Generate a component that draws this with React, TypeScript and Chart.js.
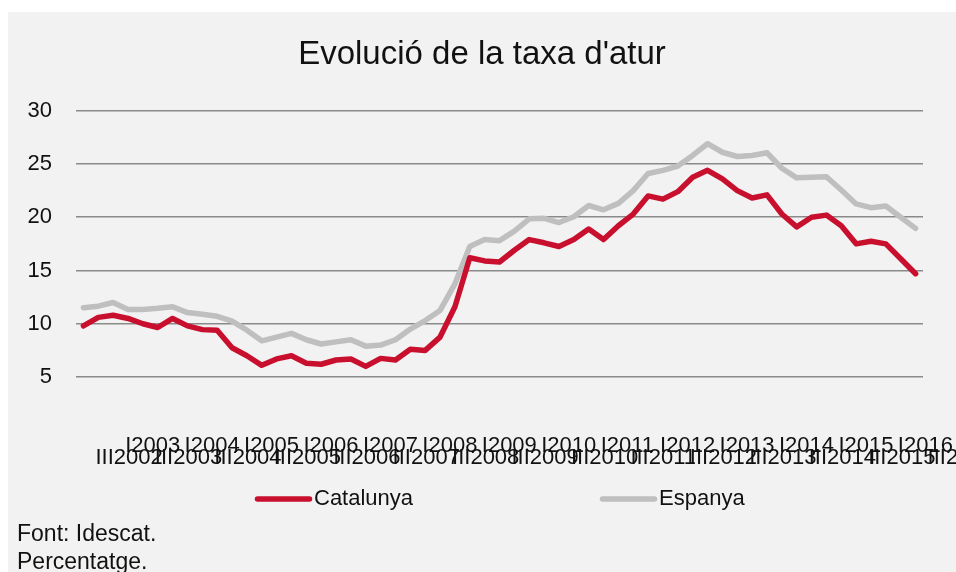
import React, { useEffect, useRef } from "react";
import { Chart, registerables } from "chart.js";

Chart.register(...registerables);

const categories = [
  "III2002", "IV2002",
  "I2003", "II2003", "III2003", "IV2003",
  "I2004", "II2004", "III2004", "IV2004",
  "I2005", "II2005", "III2005", "IV2005",
  "I2006", "II2006", "III2006", "IV2006",
  "I2007", "II2007", "III2007", "IV2007",
  "I2008", "II2008", "III2008", "IV2008",
  "I2009", "II2009", "III2009", "IV2009",
  "I2010", "II2010", "III2010", "IV2010",
  "I2011", "II2011", "III2011", "IV2011",
  "I2012", "II2012", "III2012", "IV2012",
  "I2013", "II2013", "III2013", "IV2013",
  "I2014", "II2014", "III2014", "IV2014",
  "I2015", "II2015", "III2015", "IV2015",
  "I2016", "II2016", "III2016",
];

const catalunya = [
  9.8, 10.6,
  10.8, 10.5, 10.0, 9.65,
  10.5, 9.8, 9.45, 9.4,
  7.75, 7.0, 6.1, 6.7,
  7.0, 6.3, 6.2, 6.6,
  6.7, 6.0, 6.75, 6.6,
  7.6, 7.5, 8.75, 11.6,
  16.2, 15.9, 15.8, 16.9,
  17.9, 17.6, 17.25, 17.9,
  18.9, 17.9, 19.2, 20.3,
  22.0, 21.7, 22.4, 23.75,
  24.4, 23.6, 22.5, 21.8,
  22.1, 20.3, 19.1, 20.0,
  20.2, 19.2, 17.5, 17.75,
  17.5, 16.1, 14.7,
];

const espanya = [
  11.5, 11.65,
  12.0, 11.35, 11.35, 11.45,
  11.6, 11.05, 10.9, 10.7,
  10.25, 9.4, 8.4, 8.75,
  9.1, 8.5, 8.1, 8.3,
  8.5, 7.9, 8.0, 8.5,
  9.5, 10.3, 11.25, 13.75,
  17.25, 17.9, 17.8, 18.7,
  19.85, 19.9, 19.5, 20.05,
  21.1, 20.7, 21.3, 22.5,
  24.1, 24.4, 24.8, 25.8,
  26.9, 26.1, 25.7, 25.8,
  26.05, 24.6, 23.7, 23.75,
  23.8, 22.55, 21.25, 20.9,
  21.05, 20.0, 18.95,
];

const seriesNames = ["Catalunya", "Espanya"];
const seriesColors = ["#c8102e", "#bfbfbf"];
const titleText = "Evolució de la taxa d'atur";
const sourceNotes = ["Font: Idescat.", "Percentatge."];
const yMin = 0;
const yMax = 30;
const yStep = 5;

const FONT = "'Liberation Sans', Arial, sans-serif";
const TEXT = "#111111";

const overlayPlugin = {
  id: "overlayTexts",
  afterDraw(chart: any) {
    const { ctx, chartArea } = chart;
    const cx = (chartArea.left + chartArea.right) / 2;
    ctx.save();
    ctx.fillStyle = TEXT;
    // title
    ctx.font = `33px ${FONT}`;
    ctx.textAlign = "center";
    ctx.textBaseline = "alphabetic";
    ctx.fillText(titleText, cx - 17.5, chartArea.top - 46.4);
    // legend
    const starts = [cx - 244.5, cx + 100.5];
    const ly = chartArea.bottom + 68.7;
    chart.data.datasets.forEach((ds: any, k: number) => {
      const x0 = starts[k];
      ctx.strokeStyle = ds.borderColor;
      ctx.lineWidth = ds.borderWidth;
      ctx.lineCap = "round";
      ctx.beginPath();
      ctx.moveTo(x0 + 2.5, ly);
      ctx.lineTo(x0 + 54.5, ly);
      ctx.stroke();
      ctx.font = `22px ${FONT}`;
      ctx.textAlign = "left";
      ctx.textBaseline = "middle";
      ctx.fillStyle = TEXT;
      ctx.fillText(ds.label, x0 + 59, ly);
    });
    // footnotes
    ctx.font = `23px ${FONT}`;
    ctx.textAlign = "left";
    ctx.textBaseline = "alphabetic";
    sourceNotes.forEach((t, k) => ctx.fillText(t, 9, 528.7 + k * 28.3));
    ctx.restore();
  },
};

export default function App() {
  const ref = useRef<HTMLCanvasElement | null>(null);

  useEffect(() => {
    if (!ref.current) return;
    const chart = new Chart(ref.current, {
      type: "line",
      data: {
        labels: categories,
        datasets: [
          {
            label: seriesNames[0],
            data: catalunya,
            borderColor: seriesColors[0],
            backgroundColor: seriesColors[0],
            borderWidth: 5.5,
            pointRadius: 0,
            pointHoverRadius: 0,
            tension: 0,
            borderJoinStyle: "round",
            borderCapStyle: "round",
          },
          {
            label: seriesNames[1],
            data: espanya,
            borderColor: seriesColors[1],
            backgroundColor: seriesColors[1],
            borderWidth: 5.5,
            pointRadius: 0,
            pointHoverRadius: 0,
            tension: 0,
            borderJoinStyle: "round",
            borderCapStyle: "round",
          },
        ],
      },
      options: {
        responsive: false,
        animation: false,
        devicePixelRatio: 1,
        layout: { padding: { left: 0, right: 85, top: 98.7, bottom: 131.7 } },
        plugins: {
          legend: { display: false },
          title: { display: false },
          tooltip: { enabled: false },
        },
        scales: {
          x: {
            type: "category",
            offset: true,
            grid: { display: false, drawTicks: false },
            border: { display: false },
            ticks: {
              autoSkip: false,
              maxRotation: 0,
              minRotation: 0,
              align: "start",
              labelOffset: 12,
              padding: 10,
              color: TEXT,
              font: { family: FONT, size: 22, lineHeight: 12 / 22 },
              callback: (_v: any, index: number) => {
                const lab = categories[index];
                if (lab.startsWith("III")) return ["", lab];
                if (lab.startsWith("I2")) return lab;
                return "";
              },
            },
            afterFit: (scale: any) => {
              scale.height = 50;
              scale.paddingLeft = 0;
              scale.paddingRight = 0;
            },
          },
          y: {
            min: yMin,
            max: yMax,
            border: { display: false },
            grid: {
              drawTicks: false,
              lineWidth: 1.5,
              color: (c: any) => (c.tick && c.tick.value === 0 ? "rgba(0,0,0,0)" : "#8a8a8a"),
            },
            ticks: {
              stepSize: yStep,
              padding: 24,
              color: TEXT,
              font: { family: FONT, size: 22 },
              callback: (v: any) => (v === 0 ? "" : String(v)),
            },
            afterFit: (scale: any) => {
              scale.width = 68;
              scale.paddingTop = 0;
              scale.paddingBottom = 0;
            },
          },
        },
      },
      plugins: [overlayPlugin],
    } as any);
    return () => chart.destroy();
  }, []);

  return (
    <div
      style={{
        position: "absolute",
        left: 8,
        top: 12,
        width: 948,
        height: 560,
        overflow: "hidden",
        background: "#f2f2f2",
      }}
    >
      <canvas ref={ref} width={1000} height={600} style={{ display: "block", width: 1000, height: 600 }} />
    </div>
  );
}
